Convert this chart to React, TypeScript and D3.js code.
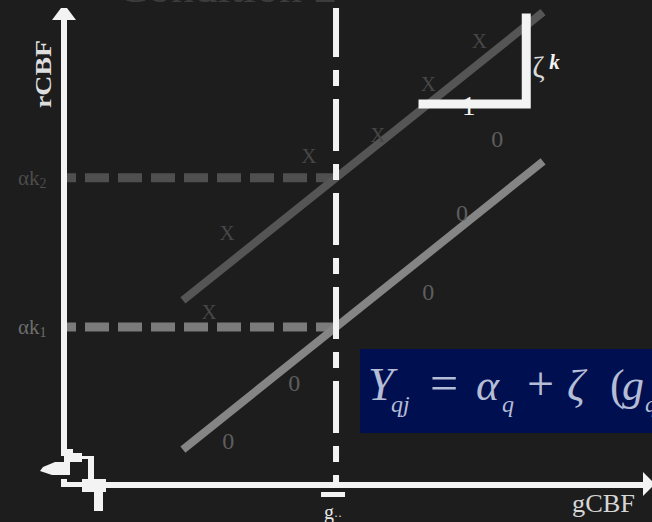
import React, { useEffect } from "react";
import * as d3 from "d3";

const W = 652;
const H = 522;

// Axis domains (arbitrary CBF units)
const gDomain = [0, 100];
const rDomain = [0, 100];

// Mean global CBF (g..) and the condition effects at that mean
const meanG = 46.9;
const groupLevels = [64.4, 33.1]; // αk2 (condition 2), αk1 (condition 1)
const levelSubs = ["2", "1"];
const commonSlope = 0.973; // ζ
const lineExtent = [20.5, 82.6];

// Scans: condition 2 (X) and condition 1 (O)
const xScanG = [71.6, 62.8, 54.1, 42.2, 28.1, 25.0];
const xScanR = [93.1, 84.1, 73.4, 69.0, 52.8, 36.3];
const oScanG = [74.7, 68.6, 62.8, 39.7, 28.3];
const oScanR = [72.5, 57.0, 40.5, 21.4, 9.2];

// Slope triangle: one unit of g against ζ·k of r
const slopeRun = [61.9, 79.7];
const slopeRise = [79.9, 97.9];

const BG = "#1d1d1d";
const AXIS = "#f3f3f3";
const lineColors = ["#555555", "#858585"];
const dashColors = ["#4f4f4f", "#7b7b7b"];
const levelTextColors = ["#4c4c4c", "#6e6e6e"];
const SERIF = "'Liberation Serif', 'DejaVu Serif', serif";

export default function App() {
  useEffect(() => {
    document.body.style.margin = "0";
    document.body.style.background = BG;
  }, []);

  const x = d3.scaleLinear().domain(gDomain).range([64, 644]);
  const y = d3.scaleLinear().domain(rDomain).range([485, 8]);

  const line = d3
    .line<[number, number]>()
    .x((d) => x(d[0]))
    .y((d) => y(d[1]));

  const fitted = (level: number, g: number) => level + commonSlope * (g - meanG);

  const ox = x(0);
  const oy = y(0);
  const gx = x(meanG);

  // Little knotted glyph at the origin
  const originRects: [number, number, number, number][] = [
    [-3, -36, 12, 7],
    [0, -32, 18, 9],
    [18, -29, 12, 3],
    [24, -29, 6, 32],
    [-3, -3, 21, 5],
    [-3, -6, 6, 3],
    [18, -6, 24, 13],
    [30, 0, 9, 26],
  ];
  const originArrow: [number, number][] = [
    [6, -23],
    [-9, -23],
    [-21, -18],
    [-24, -14],
    [-12, -10],
    [6, -10],
  ];

  const triCornerX = x(slopeRun[1]);
  const triBaseY = y(slopeRise[0]);

  return (
    <svg
      width={W}
      height={H}
      style={{ position: "absolute", left: 0, top: 0, background: BG }}
      fontFamily={SERIF}
    >
      <rect x={0} y={0} width={W} height={H} fill={BG} />

      {/* Title */}
      <text x={117} y={2} fontSize={44} fill="#3c3c3c" textLength={220} lengthAdjust="spacingAndGlyphs">
        Condition 2
      </text>

      {/* Horizontal dashed guides at αk */}
      {groupLevels.map((lv, i) => (
        <line
          key={"h" + i}
          x1={61}
          x2={gx}
          y1={y(lv)}
          y2={y(lv)}
          stroke={dashColors[i]}
          strokeWidth={9}
          strokeDasharray="24 9"
          strokeDashoffset={9}
        />
      ))}

      {/* Fitted lines */}
      {groupLevels.map((lv, i) => (
        <path
          key={"l" + i}
          d={line(lineExtent.map((g) => [g, fitted(lv, g)] as [number, number])) || ""}
          stroke={lineColors[i]}
          strokeWidth={8}
          fill="none"
        />
      ))}

      {/* Vertical dashed line at g.. */}
      <line
        x1={gx}
        x2={gx}
        y1={8}
        y2={oy}
        stroke={AXIS}
        strokeWidth={6}
        strokeDasharray="52 13 16 13"
        strokeDashoffset={3}
      />
      <rect x={gx - 15} y={492} width={24} height={5} fill={AXIS} />
      <text x={gx - 12} y={519} fontSize={20} fill="#e6e6e6">
        g
        <tspan fontSize={12} dy={1}>··</tspan>
      </text>

      {/* Level labels */}
      {groupLevels.map((lv, i) => (
        <text key={"t" + i} x={18} y={y(lv) + 7} fontSize={21} fill={levelTextColors[i]}>
          αk
          <tspan fontSize={14} dy={3}>{levelSubs[i]}</tspan>
        </text>
      ))}

      {/* Scans */}
      {xScanG.map((g, i) => (
        <text
          key={"x" + i}
          x={x(g)}
          y={y(xScanR[i])}
          textAnchor="middle"
          dominantBaseline="central"
          fontSize={21}
          fill="#474747"
        >
          X
        </text>
      ))}
      {oScanG.map((g, i) => (
        <text
          key={"o" + i}
          x={x(g)}
          y={y(oScanR[i])}
          textAnchor="middle"
          dominantBaseline="central"
          fontSize={24}
          fill="#5e5e5e"
        >
          0
        </text>
      ))}

      {/* Slope triangle */}
      <path
        d={
          line([
            [slopeRun[0], slopeRise[0]],
            [slopeRun[1], slopeRise[0]],
            [slopeRun[1], slopeRise[1]],
          ]) || ""
        }
        stroke={AXIS}
        strokeWidth={9}
        fill="none"
        strokeLinejoin="miter"
        strokeLinecap="square"
      />
      <text x={x((slopeRun[0] + slopeRun[1]) / 2) - 6} y={triBaseY + 11} fontSize={27} fill={AXIS} textAnchor="middle">
        1
      </text>
      <text x={triCornerX + 6} y={77} fontSize={30} fill="#d8d8d8">
        ζ
        <tspan x={triCornerX + 23} y={69} fontSize={21} fill={AXIS} fontWeight="bold" fontStyle="italic">
          k
        </tspan>
      </text>

      {/* Axes */}
      <rect x={ox - 3} y={20} width={6} height={oy - 36 - 20} fill={AXIS} />
      <polygon points={`${ox - 3},8 ${ox + 3},8 ${ox + 12},20 ${ox - 12},20`} fill={AXIS} />
      <rect x={ox + 42} y={oy - 3} width={643 - ox - 42} height={6} fill={AXIS} />
      <polygon points={`643,472 643,496 655,484`} fill={AXIS} />
      {originRects.map((r, i) => (
        <rect key={"or" + i} x={ox + r[0]} y={oy + r[1]} width={r[2]} height={r[3]} fill={AXIS} />
      ))}
      <polygon points={originArrow.map((p) => `${ox + p[0]},${oy + p[1]}`).join(" ")} fill={AXIS} />

      {/* Axis labels */}
      <text
        transform={`translate(51,108) rotate(-90)`}
        fontSize={24}
        fontWeight="bold"
        fill="#dedede"
        textLength={68}
        lengthAdjust="spacingAndGlyphs"
      >
        rCBF
      </text>
      <text x={572} y={512} fontSize={26} fill="#d6d6d6" textLength={63} lengthAdjust="spacingAndGlyphs">
        gCBF
      </text>

      {/* Model equation */}
      <rect x={360} y={349} width={W - 360} height={84} fill="#000f50" />
      <text fill="#b4bcd6" fontSize={44} y={400}>
        <tspan x={368} fontStyle="italic" fontSize={46}>Y</tspan>
        <tspan x={391} y={412} fontStyle="italic" fontSize={24}>qj</tspan>
        <tspan x={430} y={400} fontSize={50}>=</tspan>
        <tspan x={476} fontStyle="italic">α</tspan>
        <tspan x={502} y={412} fontStyle="italic" fontSize={24}>q</tspan>
        <tspan x={527} y={400} fontSize={48}>+</tspan>
        <tspan x={567} fontStyle="italic">ζ</tspan>
        <tspan x={610}>(</tspan>
        <tspan x={622} fontStyle="italic">g</tspan>
        <tspan x={645} y={412} fontStyle="italic" fontSize={24}>q</tspan>
      </text>
    </svg>
  );
}
